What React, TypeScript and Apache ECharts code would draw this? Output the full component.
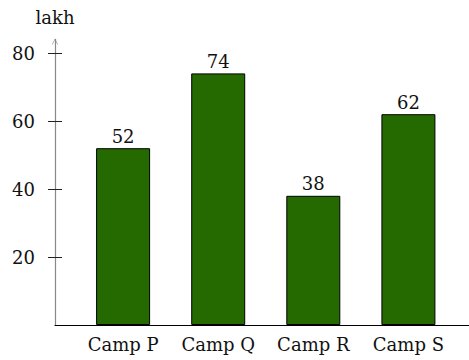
import React, { useEffect, useRef } from "react";
import * as echarts from "echarts";

const categories = ["Camp P", "Camp Q", "Camp R", "Camp S"];
const values = [52, 74, 38, 62];
const yTicks = [20, 40, 60, 80];
const yUnit = "lakh";

const FONT = "DejaVu Serif";
const FS = 18;

export default function App() {
  const ref = useRef<HTMLDivElement>(null);
  useEffect(() => {
    if (!ref.current) return;
    const chart = echarts.init(ref.current, null, { renderer: "svg" });
    chart.setOption({
      animation: false,
      grid: { left: 55, right: 0, top: 39.4, bottom: 35 },
      xAxis: {
        type: "value",
        min: -0.716,
        max: 3.637,
        splitLine: { show: false },
        axisLine: { show: true, onZero: false, lineStyle: { color: "#000", width: 1.2 } },
        axisTick: { show: false },
        axisLabel: {
          customValues: [0, 1, 2, 3],
          formatter: (v: number) => categories[Math.round(v)] ?? "",
          color: "#111",
          fontFamily: FONT,
          fontSize: FS,
          margin: 10,
        },
      },
      yAxis: [
        {
          type: "value",
          min: 0,
          max: 84,
          position: "left",
          name: yUnit,
          nameLocation: "end",
          nameGap: 13,
          nameTextStyle: { color: "#111", fontFamily: FONT, fontSize: FS, align: "center" },
          splitLine: { show: false },
          axisLine: {
            show: true,
            onZero: false,
            lineStyle: { color: "#888", width: 1.2 },
            symbol: ["none", "path://M0,10 L5,0 L10,10 L9,10 L5,2.2 L1,10 Z"],
            symbolSize: [10, 6],
            symbolOffset: [0, -2],
          },
          axisTick: {
            show: true,
            length: 7,
            customValues: yTicks,
            lineStyle: { color: "#222" },
          },
          axisLabel: {
            customValues: yTicks,
            color: "#111",
            fontFamily: FONT,
            fontSize: FS,
            margin: 20,
          },
        },
        {
          type: "value",
          min: 0,
          max: 84,
          position: "left",
          splitLine: { show: false },
          axisLine: { show: false, onZero: false },
          axisTick: {
            show: true,
            inside: true,
            length: 7,
            customValues: yTicks,
            lineStyle: { color: "#222" },
          },
          axisLabel: { show: false },
        },
      ],
      series: [
        {
          type: "bar",
          data: values.map((v, i) => [i, v]),
          barWidth: 54,
          itemStyle: { color: "#246a00", borderColor: "#000", borderWidth: 1 },
          label: {
            show: true,
            position: "top",
            distance: 3,
            color: "#111",
            fontFamily: FONT,
            fontSize: FS,
          },
        },
      ],
    });
    return () => chart.dispose();
  }, []);
  return (
    <div
      ref={ref}
      style={{ position: "fixed", left: 0, top: 0, width: 469, height: 360, background: "#fff" }}
    />
  );
}
